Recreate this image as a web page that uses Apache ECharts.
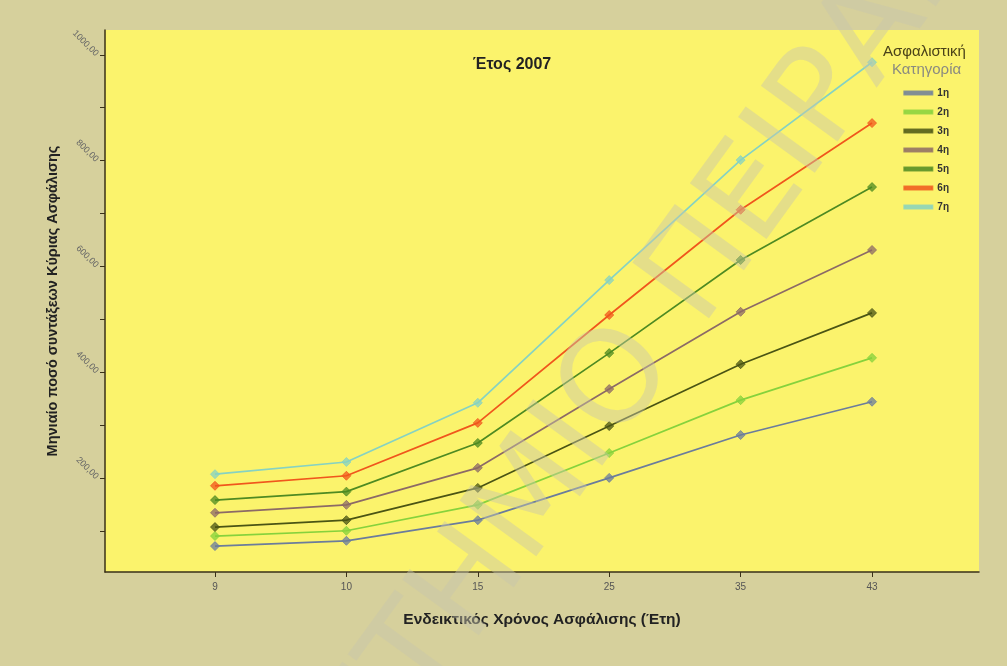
<!DOCTYPE html>
<html>
<head>
<meta charset="utf-8">
<script src="https://cdn.jsdelivr.net/npm/echarts@6/dist/echarts.min.js"></script>
<style>
  html, body { margin: 0; padding: 0; background: #d6d09c; }
  #main { width: 1007px; height: 666px; }
</style>
</head>
<body>
<div id="main"></div>
<script>
// Ενδεικτικός χρόνος ασφάλισης (κατηγορίες άξονα x)
const years = ['9', '10', '15', '25', '35', '43'];
const seriesNames = ['1η', '2η', '3η', '4η', '5η', '6η', '7η'];

// τιμές ανά ασφαλιστική κατηγορία (εκτίμηση από την εικόνα)
const cat1 = [71, 81, 120, 200, 281, 344];
const cat2 = [90, 100, 149, 247, 347, 427];
const cat3 = [107, 120, 181, 298, 415, 512];
const cat4 = [134, 149, 219, 368, 514, 631];
const cat5 = [158, 174, 266, 436, 612, 750];
const cat6 = [185, 204, 304, 508, 707, 871];
const cat7 = [207, 230, 342, 574, 801, 986];

const yLabelValues = [200, 400, 600, 800, 1000];
const yTickValues = [100, 200, 300, 400, 500, 600, 700, 800, 900, 1000];

const colors = ['#6b7c9c', '#86d23c', '#4a5414', '#8c6a66', '#4e8a22', '#f0561c', '#86d2c2'];
const allValues = [cat1, cat2, cat3, cat4, cat5, cat6, cat7];

const chart = echarts.init(document.getElementById('main'));

const series = seriesNames.map((name, i) => ({
    name: name,
    type: 'line',
    data: allValues[i].map((v, idx) => [idx, v]),
    symbol: 'diamond',
    symbolSize: 9,
    lineStyle: { color: colors[i], width: 1.7 },
    itemStyle: { color: colors[i], opacity: 0.75, borderColor: colors[i], borderWidth: 1 },
    emphasis: { disabled: true }
}));

// υδατογράφημα
const wmAngle = Math.PI * 0.3;
const wmStyle = {
    fontSize: 130,
    fontWeight: 'normal',
    fill: 'rgba(200,198,172,0.45)',
    fontFamily: 'DejaVu Sans',
    verticalAlign: 'middle'
};

chart.setOption({
    backgroundColor: '#d6d09c',
    animation: false,
    textStyle: { fontFamily: 'Liberation Sans, Arial, sans-serif' },
    title: {
        text: 'Έτος 2007',
        left: 507,
        top: 52,
        textAlign: 'center',
        textStyle: { fontSize: 16, fontWeight: 'bold', color: '#222' }
    },
    grid: {
        left: 105, right: 28, top: 30, bottom: 94,
        show: true,
        backgroundColor: '#fbf36c',
        borderWidth: 0
    },
    legend: {
        orient: 'vertical',
        right: 53,
        top: 83,
        itemWidth: 28,
        itemHeight: 3,
        itemGap: 9,
        icon: 'rect',
        data: seriesNames,
        textStyle: { fontSize: 10, color: '#333', fontWeight: 'bold' }
    },
    graphic: [
        { type: 'text', left: 883, top: 44, style: { text: 'Ασφαλιστική', fontSize: 15, fill: '#4a4218', fontFamily: 'Liberation Sans' } },
        { type: 'text', left: 892, top: 62, style: { text: 'Κατηγορία', fontSize: 15, fill: '#8a8a80', fontFamily: 'Liberation Sans' } },
        {
            type: 'text', x: 650, y: 342, rotation: wmAngle, z: 100, silent: true,
            style: Object.assign({ text: 'ΠΑΝΕΠΙΣΤΗΜΙΟ', align: 'right' }, wmStyle)
        },
        {
            type: 'text', x: 650, y: 342, rotation: wmAngle, z: 100, silent: true,
            style: Object.assign({ text: ' ΠΕΙΡΑΙΩΣ', align: 'left' }, wmStyle)
        }
    ],
    xAxis: {
        type: 'value',
        min: -0.837,
        max: 5.814,
        name: 'Ενδεικτικός Χρόνος Ασφάλισης (Έτη)',
        nameLocation: 'middle',
        nameGap: 40,
        nameTextStyle: { fontSize: 15.5, fontWeight: 'bold', color: '#222' },
        axisLine: { onZero: false, lineStyle: { color: '#3a3018', width: 1.5 } },
        axisTick: { customValues: [0, 1, 2, 3, 4, 5], length: 5, lineStyle: { color: '#3a3018' } },
        axisLabel: {
            customValues: [0, 1, 2, 3, 4, 5],
            formatter: v => years[Math.round(v)],
            fontSize: 10, color: '#555', margin: 10
        },
        splitLine: { show: false }
    },
    yAxis: {
        type: 'value',
        min: 22,
        max: 1047,
        name: 'Μηνιαίο ποσό συντάξεων Κύριας Ασφάλισης',
        nameLocation: 'middle',
        nameGap: 36,
        nameRotate: 90,
        nameTextStyle: { fontSize: 14.5, fontWeight: 'bold', color: '#222' },
        axisLine: { show: true, onZero: false, lineStyle: { color: '#3a3018', width: 1.5 } },
        axisTick: { show: true, customValues: yTickValues, length: 5, lineStyle: { color: '#3a3018' } },
        axisLabel: {
            customValues: yLabelValues,
            formatter: v => v.toFixed(2).replace('.', ','),
            rotate: -45,
            fontSize: 9, color: '#666', margin: 8
        },
        splitLine: { show: false }
    },
    series: series
});
</script>
</body>
</html>
